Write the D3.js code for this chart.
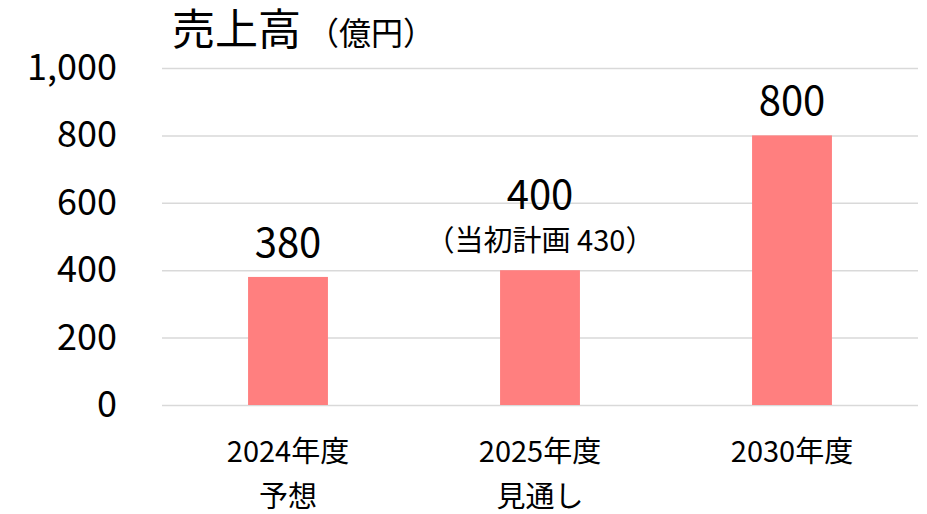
<!DOCTYPE html>
<html><head><meta charset="utf-8">
<script src="https://cdn.jsdelivr.net/npm/d3@7"></script>
<style>
html,body{margin:0;padding:0;background:#fff;}
text{font-family:"Noto Sans CJK JP","Noto Sans",sans-serif;fill:#000;}
</style></head>
<body>
<svg id="chart" width="927" height="514"></svg>
<script>
const categories = ["2024年度", "2025年度", "2030年度"];
const categorySub = ["予想", "見通し", ""];
const values = [380, 400, 800];
const notes = ["", "（当初計画 430）", ""];
const yTicks = [0, 200, 400, 600, 800, 1000];
const title = "売上高";
const unit = "（億円）";

(function () {
const svg = d3.select("#chart");
const mLeft = 162, mRight = 918, mTop = 68, mBottom = 405;

const x = d3.scaleBand().domain(categories).range([mLeft, mRight])
  .paddingInner(0.683).paddingOuter(0.3415);
const y = d3.scaleLinear().domain([0, 1000]).range([mBottom, mTop]);

const yAxis = d3.axisLeft(y).tickValues(yTicks).tickFormat(d3.format(","))
  .tickSize(-(mRight - mLeft)).tickPadding(45);
const ga = svg.append("g").attr("transform", `translate(${mLeft},0)`).call(yAxis);
ga.select(".domain").remove();
ga.selectAll(".tick line").attr("stroke", "#d9d9d9").attr("stroke-width", 1.5);
ga.selectAll(".tick text").attr("font-size", 36).attr("fill", "#000")
  .attr("font-family", '"Noto Sans CJK JP","Noto Sans",sans-serif');

svg.append("g").selectAll("rect").data(values).join("rect")
  .attr("x", (d, i) => x(categories[i]))
  .attr("width", x.bandwidth())
  .attr("y", d => y(d))
  .attr("height", d => y(0) - y(d))
  .attr("fill", "#ff7f7f");

svg.append("g").selectAll("text").data(values).join("text")
  .attr("x", (d, i) => x(categories[i]) + x.bandwidth() / 2)
  .attr("y", (d, i) => notes[i] ? y(d) - 61 : y(d) - 20)
  .attr("text-anchor", "middle").attr("font-size", 40)
  .text(d => d3.format(",")(d));

svg.append("g").selectAll("text").data(values).join("text")
  .attr("x", (d, i) => x(categories[i]) + x.bandwidth() / 2)
  .attr("y", d => y(d) - 19)
  .attr("text-anchor", "middle").attr("font-size", 29)
  .text((d, i) => notes[i]);

const gx = svg.append("g");
gx.selectAll("text.l1").data(categories).join("text").attr("class", "l1")
  .attr("x", d => x(d) + x.bandwidth() / 2).attr("y", 462)
  .attr("text-anchor", "middle").attr("font-size", 29).text(d => d);
gx.selectAll("text.l2").data(categories).join("text").attr("class", "l2")
  .attr("x", d => x(d) + x.bandwidth() / 2).attr("y", 507)
  .attr("text-anchor", "middle").attr("font-size", 29).text((d, i) => categorySub[i]);

const t = svg.append("text").attr("x", 172).attr("y", 45);
t.append("tspan").attr("font-size", 43).text(title);
t.append("tspan").attr("font-size", 32).attr("dx", 6).text(unit);
})();
</script>
</body></html>
